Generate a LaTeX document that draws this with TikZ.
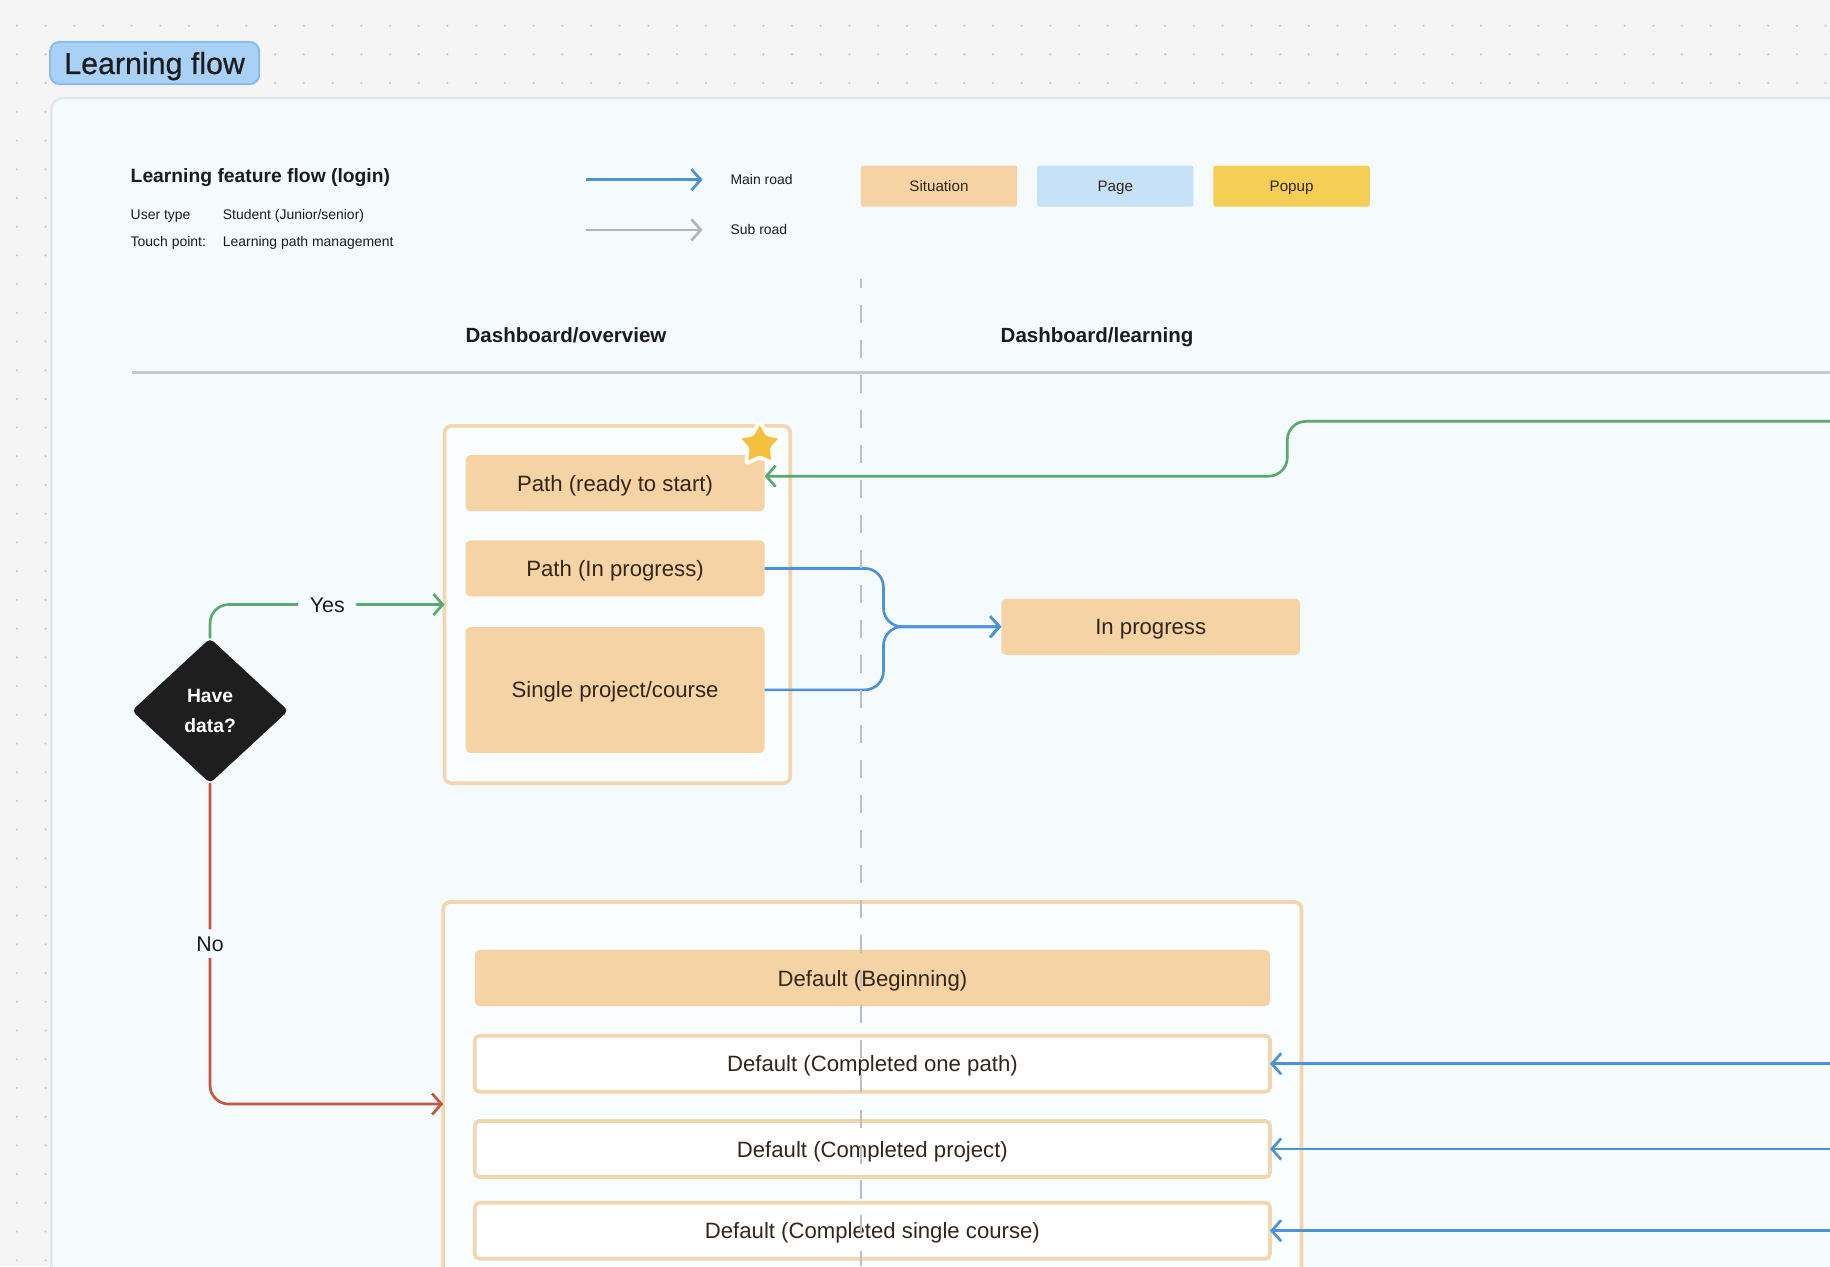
\documentclass[tikz,border=0pt]{standalone}
\usepackage{fontspec}
\setmainfont{Liberation Sans}
\newfontfamily\mediumfont[FakeBold=0.6]{Liberation Sans}
\usetikzlibrary{positioning,shapes.geometric,arrows.meta}

\definecolor{canvas}{HTML}{F5F5F5}
\definecolor{gridDot}{HTML}{C9C9C9}
\definecolor{panelFill}{HTML}{F5FAFD}
\definecolor{panelLine}{HTML}{E1E7EC}
\definecolor{pillFill}{HTML}{A9D1F6}
\definecolor{pillLine}{HTML}{8CBDEA}
\definecolor{ink}{HTML}{1C1C1C}
\definecolor{boxInk}{HTML}{33261A}
\definecolor{situFill}{HTML}{F5D3A4}
\definecolor{situLine}{HTML}{F2D6AF}
\definecolor{pageFill}{HTML}{C6E1F8}
\definecolor{popFill}{HTML}{F5CE55}
\definecolor{mainBlue}{HTML}{4A93DB}
\definecolor{subGray}{HTML}{B4B4B4}
\definecolor{yesGreen}{HTML}{5AA96F}
\definecolor{noRed}{HTML}{C8553F}
\definecolor{ruleGray}{HTML}{C7C9CB}
\definecolor{laneGray}{HTML}{BDBFC1}
\definecolor{starFill}{HTML}{F4C13F}
\definecolor{diaFill}{HTML}{1E1E1E}

\tikzset{
	every node/.style={
		inner sep=0pt,
		outer sep=0pt,
		text=ink
	},
	pill/.style={rectangle, rounded corners=0.08cm, fill=pillFill, draw=pillLine, line width=0.5pt, minimum width=1.79cm, minimum height=0.36cm, text height=5.55pt, text depth=0.2pt, font=\mediumfont\fontsize{7.4}{9}\selectfont},
	situbox/.style={rectangle, rounded corners=0.04cm, fill=situFill, text=boxInk, minimum width=2.56cm, minimum height=0.48cm, text height=4.05pt, text depth=0.15pt, font=\fontsize{5.4}{6.5}\selectfont},
	emptybox/.style={situbox, fill=white, draw=situLine, line width=0.9pt},
	groupbox/.style={rectangle, rounded corners=0.06cm, fill=white!55!panelFill, draw=situLine, line width=0.9pt},
	legendbox/.style={rectangle, rounded corners=0.02cm, minimum width=1.34cm, minimum height=0.35cm, text height=2.78pt, text depth=0.1pt, text=boxInk, font=\fontsize{3.7}{4.4}\selectfont},
	smalltext/.style={anchor=west, font=\fontsize{3.4}{4}\selectfont},
	colhead/.style={text height=3.75pt, text depth=0.15pt, font=\bfseries\fontsize{5}{6}\selectfont},
	decision/.style={diamond, fill=diaFill, text=white, minimum width=1.34cm, minimum height=1.24cm, rounded corners=0.04cm, align=center, font=\bfseries\fontsize{4.7}{7.4}\selectfont},
	badge/.style={star, star points=5, star point ratio=1.85, minimum size=0.40cm, fill=starFill, draw=white, line width=0.9pt, line join=round, rounded corners=0.02cm},
	flow/.style={line width=0.65pt, rounded corners=0.16cm, -{Straight Barb[length=0.8mm,width=1.8mm]}},
	mainroad/.style={flow, draw=mainBlue},
	subroad/.style={flow, draw=subGray},
	yesroad/.style={flow, draw=yesGreen},
	noroad/.style={flow, draw=noRed},
	branchlabel/.style={fill=panelFill, inner xsep=0.1cm, inner ysep=0.05cm, text height=3.9pt, text depth=0.15pt, font=\fontsize{5.2}{6}\selectfont}
}

\begin{document}
\begin{tikzpicture}[x=0.01cm, y=-0.01cm]
	\useasboundingbox (0,0) rectangle (1568,1085);
	\clip (0,0) rectangle (1568,1085);
	\fill[canvas] (0,0) rectangle (1568,1085);

	% dotted canvas
	\foreach \i in {0,...,63}
		\foreach \j in {22,46.6,71.2}
			\fill[gridDot] (14.4+24.6*\i,\j) circle (0.01cm);
	\foreach \j in {3,...,44}
		\foreach \i in {14.4,39}
			\fill[gridDot] (\i,22+24.6*\j) circle (0.01cm);

	\draw[panelLine, fill=panelFill, rounded corners=0.1cm, line width=0.6pt] (44,84) rectangle (1700,1200);
	\node[pill] (flowtag) at (132.5,54) {Learning flow};

	% header
	\node[anchor=west, font=\bfseries\fontsize{4.7}{5.6}\selectfont] (sheettitle) at (112,152) {Learning feature flow (login)};
	\node[smalltext] (usertype) at (112,185) {User type};
	\node[smalltext] (uservalue) at (191,185) {Student (Junior/senior)};
	\node[smalltext] (touchpoint) at (112,208) {Touch point:};
	\node[smalltext] (touchvalue) at (191,208) {Learning path management};

	% legend
	\coordinate (mainS) at (502,154);
	\coordinate (mainE) at (602,154);
	\coordinate (subS) at (502,197);
	\coordinate (subE) at (602,197);
	\draw[mainroad] (mainS) -- (mainE);
	\draw[subroad] (subS) -- (subE);
	\node[smalltext] (mainlbl) at (626,154) {Main road};
	\node[smalltext] (sublbl) at (626,197) {Sub road};
	\node[legendbox, fill=situFill] (legsitu) at (804.5,159.5) {Situation};
	\node[legendbox, fill=pageFill, right=0.17cm of legsitu] (legpage) {Page};
	\node[legendbox, fill=popFill, right=0.17cm of legpage] (legpop) {Popup};

	% lanes
	\node[colhead] (colover) at (485,287) {Dashboard/overview};
	\node[colhead] (collearn) at (940,287) {Dashboard/learning};
	\draw[ruleGray, line width=0.7pt] (113,319) -- (1568,319);

	% data found
	\node[groupbox, minimum width=2.96cm, minimum height=3.06cm] (grpA) at (529,518) {};
	\node[situbox] (ptready) at (527,414) {Path (ready to start)};
	\node[situbox, below=0.25cm of ptready] (ptprog) {Path (In progress)};
	\node[situbox, minimum height=1.08cm, below=0.26cm of ptprog] (single) {Single project/course};
	\node[situbox] (inprog) at (986,537) {In progress};

	\node[decision] (havedata) at (180,609) {Have\\data?};

	% no data
	\node[groupbox, minimum width=7.35cm, minimum height=3.46cm] (grpB) at (747.5,946) {};
	\node[situbox, minimum width=6.81cm] (defbegin) at (747.5,838) {Default (Beginning)};
	\node[emptybox, minimum width=6.81cm] (defpath) at (747.5,911.5) {Default (Completed one path)};
	\node[emptybox, minimum width=6.81cm] (defproj) at (747.5,984.5) {Default (Completed project)};
	\node[emptybox, minimum width=6.81cm] (defcourse) at (747.5,1054.5) {Default (Completed single course)};

	% connectors
	\draw[yesroad] (havedata.north) |- node[branchlabel, pos=0.75] (yeslbl) {Yes} (grpA.west);
	\draw[noroad] (havedata.south) |- node[branchlabel, pos=0.25] (nolbl) {No} (grpB.west);

	\coordinate (brace) at (757,537);
	\draw[mainroad] (ptprog.east) -| (brace) -- (inprog.west);
	\draw[mainroad] (single.east) -| (brace) -- (inprog.west);

	\coordinate (greenIn) at (1568,361);
	\coordinate (greenStep) at (1103,361);
	\draw[yesroad] (greenIn) -- (greenStep) |- ([yshift=0.06cm]ptready.east);
	\node[badge] (badge) at (651,381) {};

	\coordinate (edgeR) at (1568,0);
	\foreach \b in {defpath,defproj,defcourse}
		\draw[mainroad] (\b.east -| edgeR) -- (\b.east);

	\draw[laneGray, line width=0.5pt, dash pattern=on 0.155cm off 0.145cm, dash phase=0.08cm] (738,239) -- (738,1085);
\end{tikzpicture}
\end{document}
